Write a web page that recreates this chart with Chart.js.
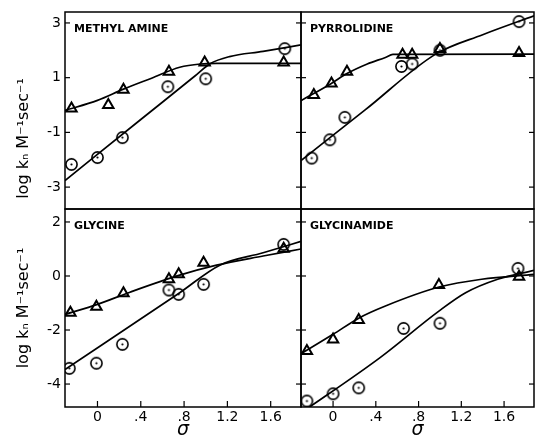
<!DOCTYPE html>
<html>
<head>
<meta charset="utf-8">
<script src="https://cdn.jsdelivr.net/npm/chart.js@4"></script>
<style>
    body { margin: 0; background: #fff; }
    #wrap { position: relative; width: 542px; height: 440px; }
    #wrap canvas { position: absolute; left: 0; top: 0; }
</style>
</head>
<body>
<div id="wrap">
    <canvas id="pTL" width="542" height="440"></canvas>
    <canvas id="pTR" width="542" height="440"></canvas>
    <canvas id="pBL" width="542" height="440"></canvas>
    <canvas id="pBR" width="542" height="440"></canvas>
</div>
<script>
// tick values and labels
const xTickValues = [0, 0.4, 0.8, 1.2, 1.6];
const xTickLabels = ['0', '.4', '.8', '1.2', '1.6'];
const topYTicks = [3, 1, -1, -3];
const bottomYTicks = [2, 0, -2, -4];

// Methyl amine (triangles / circles, plus drawn curves)
const maTriX = [-0.24, 0.10, 0.24, 0.66, 0.99, 1.72];
const maTriY = [-0.13, 0.0, 0.56, 1.22, 1.55, 1.55];
const maCirX = [-0.24, 0.0, 0.23, 0.65, 1.0, 1.73];
const maCirY = [-2.17, -1.92, -1.19, 0.67, 0.96, 2.06];
const maTriFitX = [-0.3, 0.0, 0.24, 0.5, 0.76, 0.95, 1.1, 1.88];
const maTriFitY = [-0.2, 0.17, 0.58, 0.98, 1.38, 1.5, 1.52, 1.52];
const maCirFitX = [-0.3, 0.4, 0.9, 1.04, 1.22, 1.53, 1.88];
const maCirFitY = [-2.76, -0.53, 1.06, 1.51, 1.77, 1.96, 2.2];

// Pyrrolidine
const pyTriX = [-0.18, -0.015, 0.13, 0.65, 0.74, 1.0, 1.74];
const pyTriY = [0.37, 0.79, 1.22, 1.84, 1.84, 2.05, 1.9];
const pyCirX = [-0.2, -0.03, 0.11, 0.64, 0.74, 1.0, 1.74];
const pyCirY = [-1.94, -1.27, -0.45, 1.41, 1.5, 2.0, 3.05];
const pyTriFitX = [-0.3, -0.02, 0.13, 0.32, 0.49, 0.56, 1.88];
const pyTriFitY = [0.16, 0.78, 1.15, 1.5, 1.74, 1.85, 1.86];
const pyCirFitX = [-0.3, 0.3, 0.96, 1.4, 1.88];
const pyCirFitY = [-2.03, -0.18, 1.86, 2.57, 3.26];

// Glycine
const glTriX = [-0.25, -0.01, 0.24, 0.66, 0.75, 0.98, 1.72];
const glTriY = [-1.36, -1.14, -0.64, -0.12, 0.06, 0.49, 1.01];
const glCirX = [-0.26, -0.01, 0.23, 0.66, 0.75, 0.98, 1.72];
const glCirY = [-3.42, -3.23, -2.53, -0.52, -0.68, -0.31, 1.17];
const glTriFitX = [-0.3, 0.0, 0.3, 0.76, 1.1, 1.53, 1.88];
const glTriFitY = [-1.42, -1.05, -0.6, 0.03, 0.4, 0.74, 1.0];
const glCirFitX = [-0.3, 0.76, 1.13, 1.53, 1.88];
const glCirFitY = [-3.46, -0.62, 0.4, 0.86, 1.28];

// Glycinamide
const gaTriX = [-0.245, 0.0, 0.24, 0.99, 1.74];
const gaTriY = [-2.78, -2.35, -1.63, -0.33, -0.03];
const gaCirX = [-0.245, 0.0, 0.24, 0.66, 1.0, 1.73];
const gaCirY = [-4.63, -4.36, -4.14, -1.94, -1.75, 0.28];
const gaTriFitX = [-0.3, 0.0, 0.24, 0.49, 1.0, 1.39, 1.88];
const gaTriFitY = [-2.88, -2.16, -1.56, -1.11, -0.4, -0.12, 0.06];
const gaCirFitX = [-0.3, 0.44, 0.99, 1.24, 1.54, 1.88];
const gaCirFitY = [-5.07, -3.02, -1.3, -0.62, -0.12, 0.21];

const FONT = '"DejaVu Sans", sans-serif';
const Y_TITLE = 'log k\u2099 M\u207B\u00B9sec\u207B\u00B9';

function toPoints(xs, ys) {
    return xs.map((x, i) => ({ x: x, y: ys[i] }));
}

// open circle with a dot in the middle
function circleDot() {
    const c = document.createElement('canvas');
    c.width = 15; c.height = 15;
    const g = c.getContext('2d');
    g.strokeStyle = '#000';
    g.lineWidth = 1.6;
    g.beginPath();
    g.arc(7.5, 7.5, 5.6, 0, Math.PI * 2);
    g.stroke();
    g.fillStyle = '#000';
    g.beginPath();
    g.arc(7.5, 7.5, 1.1, 0, Math.PI * 2);
    g.fill();
    return c;
}
const dotImg = circleDot();

// frame, inward ticks and panel name
const framePlugin = {
    id: 'frame',
    afterDatasetsDraw(chart, args, opts) {
        const { ctx, chartArea: a, scales } = chart;
        const line = (x1, y1, x2, y2) => {
            ctx.beginPath(); ctx.moveTo(x1, y1); ctx.lineTo(x2, y2); ctx.stroke();
        };
        ctx.save();
        ctx.strokeStyle = '#000';
        ctx.lineWidth = 1.5;
        ctx.strokeRect(a.left, a.top, a.right - a.left, a.bottom - a.top);
        ctx.lineWidth = 1.2;
        opts.yTicks.forEach(v => {
            const y = scales.y.getPixelForValue(v);
            line(a.left, y, a.left + 5, y);
            line(a.right - 5, y, a.right, y);
        });
        if (opts.bottomTicks) {
            xTickValues.forEach(v => {
                const x = scales.x.getPixelForValue(v);
                line(x, a.bottom, x, a.bottom - 6);
            });
        }
        ctx.font = 'bold 11px ' + FONT;
        ctx.fillStyle = '#000';
        ctx.textBaseline = 'middle';
        ctx.fillText(opts.name, a.left + 9, a.top + 17);
        ctx.restore();
    }
};

function makePanel(id, p) {
    const lineSet = (xs, ys) => ({
        data: toPoints(xs, ys),
        showLine: true,
        borderColor: '#000',
        borderWidth: 1.7,
        pointRadius: 0,
        cubicInterpolationMode: 'monotone'
    });
    new Chart(document.getElementById(id), {
        type: 'scatter',
        data: {
            datasets: [
                lineSet(p.triFitX, p.triFitY),
                lineSet(p.cirFitX, p.cirFitY),
                {
                    data: toPoints(p.triX, p.triY),
                    pointStyle: 'triangle',
                    pointRadius: 6,
                    borderColor: '#000',
                    borderWidth: 2,
                    backgroundColor: 'rgba(0,0,0,0)'
                },
                {
                    data: toPoints(p.cirX, p.cirY),
                    pointStyle: dotImg,
                    pointRadius: 6
                }
            ]
        },
        options: {
            responsive: false,
            animation: false,
            events: [],
            layout: { padding: p.pad },
            plugins: {
                legend: { display: false },
                tooltip: { enabled: false },
                frame: { name: p.name, yTicks: p.yTicks, bottomTicks: p.showX }
            },
            scales: {
                x: {
                    type: 'linear',
                    min: -0.3,
                    max: 1.88,
                    display: p.showX,
                    afterBuildTicks: s => { s.ticks = xTickValues.map(v => ({ value: v })); },
                    afterFit: s => {
                        s.height = p.showX ? 33 : 0;
                        s.paddingLeft = 0;
                        s.paddingRight = 0;
                    },
                    grid: { display: false, drawTicks: false },
                    border: { display: false },
                    ticks: {
                        padding: 2,
                        color: '#000',
                        font: { family: FONT, size: 14 },
                        maxRotation: 0,
                        callback: v => xTickLabels[xTickValues.indexOf(v)]
                    },
                    title: {
                        display: true,
                        text: '\u03C3',
                        color: '#000',
                        font: { family: FONT, size: 19, style: 'italic', lineHeight: 1 },
                        padding: { top: 0, bottom: 0 }
                    }
                },
                y: {
                    type: 'linear',
                    min: p.yMin,
                    max: p.yMax,
                    display: p.showY,
                    afterBuildTicks: s => { s.ticks = p.yTicks.map(v => ({ value: v })); },
                    afterFit: s => {
                        s.width = p.showY ? 65 : 0;
                        s.paddingTop = 0;
                        s.paddingBottom = 0;
                    },
                    grid: { display: false, drawTicks: false },
                    border: { display: false },
                    ticks: {
                        padding: 4,
                        color: '#000',
                        font: { family: FONT, size: 14 },
                        callback: v => String(v)
                    },
                    title: {
                        display: true,
                        text: p.yTitle,
                        align: p.titleAlign,
                        color: '#000',
                        font: { family: FONT, size: 16 },
                        padding: { top: 14, bottom: 0 }
                    }
                }
            }
        },
        plugins: [framePlugin]
    });
}

makePanel('pTL', {
    name: 'METHYL AMINE',
    triX: maTriX, triY: maTriY, cirX: maCirX, cirY: maCirY,
    triFitX: maTriFitX, triFitY: maTriFitY, cirFitX: maCirFitX, cirFitY: maCirFitY,
    yMin: -3.8, yMax: 3.4, yTicks: topYTicks,
    yTitle: '  ' + Y_TITLE, titleAlign: 'start',
    showX: false, showY: true,
    pad: { left: 0, top: 12, right: 241, bottom: 231 }
});
makePanel('pTR', {
    name: 'PYRROLIDINE',
    triX: pyTriX, triY: pyTriY, cirX: pyCirX, cirY: pyCirY,
    triFitX: pyTriFitX, triFitY: pyTriFitY, cirFitX: pyCirFitX, cirFitY: pyCirFitY,
    yMin: -3.8, yMax: 3.4, yTicks: topYTicks,
    yTitle: Y_TITLE, titleAlign: 'center',
    showX: false, showY: false,
    pad: { left: 301, top: 12, right: 3, bottom: 231 }
});
makePanel('pBL', {
    name: 'GLYCINE',
    triX: glTriX, triY: glTriY, cirX: glCirX, cirY: glCirY,
    triFitX: glTriFitX, triFitY: glTriFitY, cirFitX: glCirFitX, cirFitY: glCirFitY,
    yMin: -4.85, yMax: 2.48, yTicks: bottomYTicks,
    yTitle: Y_TITLE, titleAlign: 'center',
    showX: true, showY: true,
    pad: { left: 0, top: 209, right: 241, bottom: 0 }
});
makePanel('pBR', {
    name: 'GLYCINAMIDE',
    triX: gaTriX, triY: gaTriY, cirX: gaCirX, cirY: gaCirY,
    triFitX: gaTriFitX, triFitY: gaTriFitY, cirFitX: gaCirFitX, cirFitY: gaCirFitY,
    yMin: -4.85, yMax: 2.48, yTicks: bottomYTicks,
    yTitle: Y_TITLE, titleAlign: 'center',
    showX: true, showY: false,
    pad: { left: 301, top: 209, right: 3, bottom: 0 }
});
</script>
</body>
</html>
